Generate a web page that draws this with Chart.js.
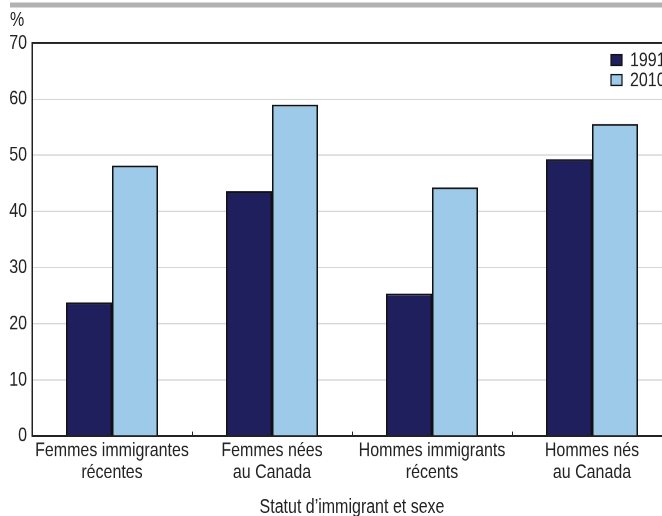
<!DOCTYPE html>
<html>
<head>
<meta charset="utf-8">
<script src="https://cdn.jsdelivr.net/npm/chart.js@4.4.0/dist/chart.umd.min.js"></script>
<style>
  html, body { margin: 0; padding: 0; background: #fff; overflow: hidden; width: 662px; height: 516px; }
  /* the source picture is stretched vertically, so the whole drawing is too */
  #stage { position: absolute; left: 0; top: 0; width: 690px; height: 413px;
           transform: scaleY(1.25); transform-origin: 0 0;
           font-family: "Liberation Sans", Arial, sans-serif; color: #222; }
  #topbar { position: absolute; left: 10px; top: 2.4px; width: 680px; height: 4px; background: #b1b1b1; }
  #unit { position: absolute; left: 10px; top: 7px; font-size: 16px; line-height: 18px; }
  #xtitle { position: absolute; left: 352px; top: 396px; transform: translateX(-50%);
            font-size: 16px; line-height: 18px; white-space: nowrap; }
  #c { position: absolute; left: 0; top: 0; }
</style>
</head>
<body>
<div id="stage">
  <div id="topbar"></div>
  <canvas id="c" width="690" height="413"></canvas>
  <div id="unit">%</div>
  <div id="xtitle">Statut d’immigrant et sexe</div>
</div>
<script>
// data
const categories = [
  ["Femmes immigrantes", "récentes"],
  ["Femmes nées", "au Canada"],
  ["Hommes immigrants", "récents"],
  ["Hommes nés", "au Canada"]
];
const years = ["1991", "2010"];
const values1991 = [23.8, 43.6, 25.4, 49.3];
const values2010 = [48.2, 59.0, 44.3, 55.6];
const yTicks = [0, 10, 20, 30, 40, 50, 60, 70];

const dark = "#201f5d";
const light = "#9ecae9";

// small ticks between the groups, pointing up from the axis
const groupTicks = {
  id: "groupTicks",
  afterDraw(chart) {
    const x = chart.scales.x, ctx = chart.ctx, bottom = chart.chartArea.bottom;
    ctx.save();
    ctx.strokeStyle = "#222";
    ctx.lineWidth = 1;
    for (let i = 0; i < categories.length - 1; i++) {
      const px = Math.round((x.getPixelForValue(i) + x.getPixelForValue(i + 1)) / 2) + 0.5;
      ctx.beginPath();
      ctx.moveTo(px, bottom);
      ctx.lineTo(px, bottom - 3.5);
      ctx.stroke();
    }
    ctx.restore();
  }
};

// legend box in the top right corner of the plot
const cornerLegend = {
  id: "cornerLegend",
  afterDraw(chart) {
    const ctx = chart.ctx, right = chart.chartArea.right;
    ctx.save();
    ctx.font = "16px 'Liberation Sans', Arial, sans-serif";
    ctx.textBaseline = "middle";
    chart.data.datasets.forEach((ds, i) => {
      const cy = 48 + i * 16;
      ctx.fillStyle = ds.backgroundColor;
      ctx.fillRect(right - 61, cy - 4.4, 11, 8.8);
      ctx.strokeStyle = "#111";
      ctx.lineWidth = 1.2;
      ctx.strokeRect(right - 61, cy - 4.4, 11, 8.8);
      ctx.fillStyle = "#222";
      ctx.fillText(ds.label, right - 42, cy + 0.5);
    });
    ctx.restore();
  }
};

new Chart(document.getElementById("c"), {
  type: "bar",
  data: {
    labels: categories,
    datasets: [
      { label: years[0], data: values1991, backgroundColor: dark,
        borderColor: "#111", borderWidth: 1.5 },
      { label: years[1], data: values2010, backgroundColor: light,
        borderColor: "#111", borderWidth: 1.5 }
    ]
  },
  options: {
    responsive: false,
    animation: false,
    devicePixelRatio: 2,
    layout: { padding: { top: 34.4, right: 18, left: 0, bottom: 0 } },
    datasets: { bar: { categoryPercentage: 0.575, barPercentage: 1.0 } },
    plugins: { legend: { display: false }, tooltip: { enabled: false } },
    scales: {
      x: {
        afterFit(s) { s.height = 64.2; },
        grid: { display: false, drawTicks: false },
        border: { color: "#222", width: 1.5 },
        ticks: {
          color: "#222", padding: 3, maxRotation: 0, autoSkip: false,
          font: { family: "'Liberation Sans', Arial, sans-serif", size: 16, lineHeight: 1.1 }
        }
      },
      y: {
        min: 0, max: 70,
        afterFit(s) { s.width = 32; },
        afterBuildTicks(s) { s.ticks = yTicks.map(v => ({ value: v })); },
        grid: {
          drawTicks: false,
          color: c => (c.tick.value === 70 ? "#222" : "#d6d6d6"),
          lineWidth: c => (c.tick.value === 70 ? 1.5 : 1)
        },
        border: { color: "#222", width: 1.5 },
        ticks: {
          color: "#222", padding: 5,
          font: { family: "'Liberation Sans', Arial, sans-serif", size: 16 }
        }
      }
    }
  },
  plugins: [groupTicks, cornerLegend]
});
</script>
</body>
</html>
